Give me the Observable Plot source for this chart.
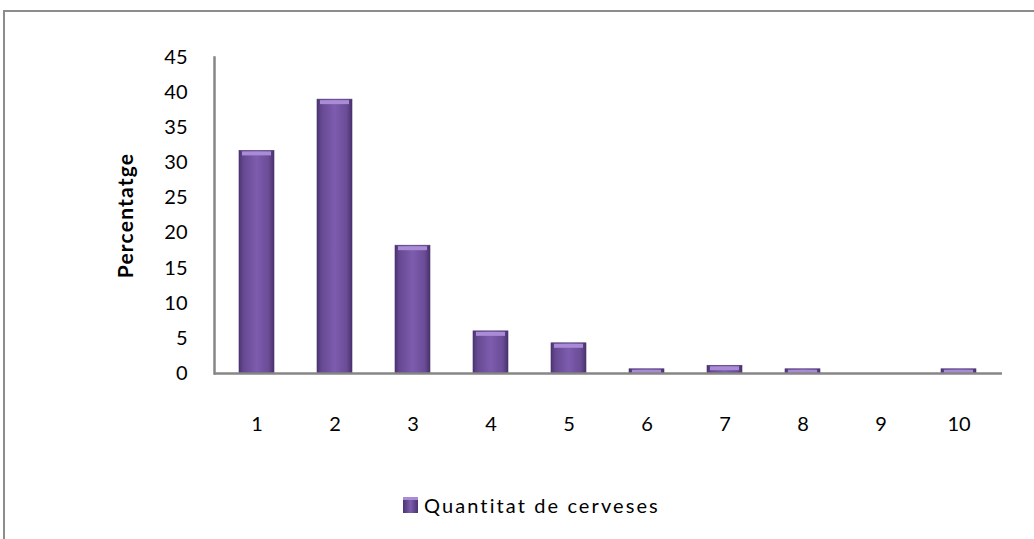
<!DOCTYPE html>
<html>
<head>
<meta charset="utf-8">
<script src="https://cdn.jsdelivr.net/npm/d3@7"></script>
<script src="https://cdn.jsdelivr.net/npm/@observablehq/plot@0.6"></script>
<style>
  html, body { margin: 0; padding: 0; background: #fff; }
  #wrap { position: relative; width: 1034px; height: 539px; overflow: hidden; font-family: Lato, "Open Sans", sans-serif; }
  #border { position: absolute; left: 3px; top: 10px; width: 1200px; height: 700px; border-left: 2px solid #8c8c8c; border-top: 2px solid #8c8c8c; }
  #chart { position: absolute; left: 0; top: 0; }
  #legend { position: absolute; left: 403px; top: 493px; display: flex; align-items: center; font-size: 20px; letter-spacing: 2.1px; color: #000; }
  #legend .sw { width: 15px; height: 16px; margin-right: 6px; background: linear-gradient(90deg, #4b3470, #7d5cae 50%, #4b3470); border-top: 3px solid #a98bd6; box-sizing: border-box; }
</style>
</head>
<body>
<div id="wrap">
  <div id="border"></div>
  <div id="chart"></div>
  <div id="legend"><span class="sw"></span><span>Quantitat de cerveses</span></div>
</div>
<script>
const categories = ["1", "2", "3", "4", "5", "6", "7", "8", "9", "10"];
const values = [31.7, 39.0, 18.2, 6.0, 4.3, 0.6, 1.1, 0.6, 0, 0.6];
const yTicks = [0, 5, 10, 15, 20, 25, 30, 35, 40, 45];
const seriesName = "Quantitat de cerveses";
const yLabel = "Percentatge";

const data = categories.map((c, i) => ({cat: c, value: values[i]}));

const plot = Plot.plot({
  width: 1034,
  height: 445,
  marginLeft: 214,
  marginRight: 32,
  marginTop: 57,
  marginBottom: 72,
  style: {fontFamily: "Lato, 'Open Sans', sans-serif", fontSize: "20px", color: "#000", background: "transparent"},
  x: {domain: categories, paddingInner: 0.55, paddingOuter: 0.275, label: null},
  y: {domain: [0, 45], ticks: yTicks, label: null},
  marks: [
    Plot.axisY({ticks: yTicks, tickSize: 0, tickPadding: 27, label: yLabel, labelAnchor: "center", labelArrow: "none", labelOffset: 96, fill: "#000"}),
    Plot.axisX({tickSize: 0, tickPadding: 43, label: null, fill: "#000"}),
    Plot.barY(data.filter(d => d.value > 0), {x: "cat", y: "value", fill: "url(#barGrad)", stroke: "#4a3470", strokeWidth: 0.6}),
    Plot.tickY(data.filter(d => d.value > 0), {x: "cat", y: "value", stroke: "#a98bd6", strokeWidth: 4, dy: 2.5, insetLeft: 3, insetRight: 3}),
    Plot.ruleY([0], {stroke: "#868686", strokeWidth: 2.5}),
    Plot.frame({anchor: "left", stroke: "#868686", strokeWidth: 2.5})
  ]
});

const svg = d3.select(plot);
const defs = svg.insert("defs", ":first-child");
const g = defs.append("linearGradient").attr("id", "barGrad").attr("x1", "0").attr("x2", "1").attr("y1", "0").attr("y2", "0");
[[0, "#4b3470"], [0.12, "#654891"], [0.5, "#7d5cae"], [0.85, "#6a4c96"], [1, "#48326c"]].forEach(([o, c]) => {
  g.append("stop").attr("offset", o).attr("stop-color", c);
});
svg.selectAll('[aria-label="y-tick label"] text, [aria-label="x-tick label"] text').style("letter-spacing", "1.5px");
svg.selectAll('[aria-label="y-axis label"] text').style("font-weight", "bold").style("letter-spacing", "1.2px").style("font-size", "21px");

document.getElementById("chart").appendChild(plot);
</script>
</body>
</html>
